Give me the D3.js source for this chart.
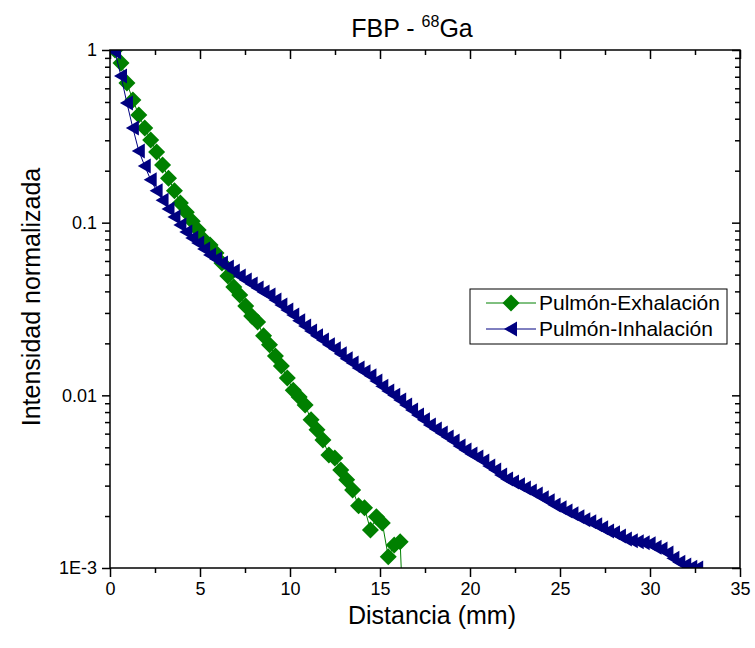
<!DOCTYPE html>
<meta charset="utf-8">

<!-- Load d3.js -->
<script src="https://d3js.org/d3.v7.min.js"></script>

<style>
  body { margin: 0; background: #fff; }
  text { font-family: Arial, "Liberation Sans", sans-serif; fill: #000; }
</style>

<!-- Create a div where the graph will take place -->
<div id="my_dataviz"></div>

<script>

// distance samples (mm)
var distancia = [0.28, 0.61, 0.94, 1.27, 1.60, 1.93, 2.26, 2.59, 2.92, 3.25,
  3.58, 3.91, 4.24, 4.57, 4.90, 5.23, 5.56, 5.89, 6.22, 6.55,
  6.88, 7.21, 7.54, 7.87, 8.20, 8.53, 8.86, 9.19, 9.52, 9.85,
  10.18, 10.51, 10.84, 11.17, 11.50, 11.83, 12.16, 12.49, 12.82, 13.15,
  13.48, 13.81, 14.14, 14.47, 14.80, 15.13, 15.46, 15.79, 16.12, 16.45,
  16.78, 17.11, 17.44, 17.77, 18.10, 18.43, 18.76, 19.09, 19.42, 19.75,
  20.08, 20.41, 20.74, 21.07, 21.40, 21.73, 22.06, 22.39, 22.72, 23.05,
  23.38, 23.71, 24.04, 24.37, 24.70, 25.03, 25.36, 25.69, 26.02, 26.35,
  26.68, 27.01, 27.34, 27.67, 28.00, 28.33, 28.66, 28.99, 29.32, 29.65,
  29.98, 30.31, 30.64, 30.97, 31.30, 31.63, 31.96, 32.29, 32.62];

// Pulmón-Exhalación (last value falls below the axis)
var exhalacion = [1.000, 0.841, 0.644, 0.514, 0.420, 0.353, 0.301, 0.257, 0.216, 0.181,
  0.153, 0.130, 0.115, 0.102, 0.0907, 0.0794, 0.0743, 0.0668, 0.0584, 0.0491,
  0.0424, 0.0381, 0.0329, 0.0288, 0.0266, 0.0221, 0.0196, 0.0169, 0.0148, 0.0126,
  0.0107, 0.00979, 0.00880, 0.00721, 0.00631, 0.00552, 0.00452, 0.00434, 0.00370, 0.00324,
  0.00283, 0.00229, 0.00223, 0.00166, 0.00198, 0.00182, 0.00116, 0.00136, 0.00142, 0.0002];

// Pulmón-Inhalación
var inhalacion = [0.974, 0.707, 0.493, 0.353, 0.260, 0.213, 0.177, 0.153, 0.135, 0.120,
  0.108, 0.0970, 0.0883, 0.0815, 0.0762, 0.0704, 0.0650, 0.0616, 0.0584, 0.0554,
  0.0525, 0.0491, 0.0466, 0.0442, 0.0419, 0.0397, 0.0381, 0.0357, 0.0334, 0.0312,
  0.0292, 0.0270, 0.0252, 0.0236, 0.0221, 0.0209, 0.0196, 0.0186, 0.0174, 0.0163,
  0.0154, 0.0144, 0.0137, 0.0130, 0.0121, 0.0113, 0.0106, 0.0100, 0.00940, 0.00880,
  0.00823, 0.00770, 0.00721, 0.00674, 0.00639, 0.00606, 0.00574, 0.00544, 0.00509, 0.00483,
  0.00458, 0.00440, 0.00417, 0.00390, 0.00370, 0.00346, 0.00328, 0.00315, 0.00303, 0.00291,
  0.00279, 0.00268, 0.00255, 0.00245, 0.00232, 0.00223, 0.00214, 0.00206, 0.00198, 0.00190,
  0.00185, 0.00178, 0.00171, 0.00164, 0.00160, 0.00153, 0.00147, 0.00144, 0.00142, 0.00140,
  0.00138, 0.00132, 0.00129, 0.00122, 0.00114, 0.00108, 0.00104, 0.00101, 0.00100];

var xTicks = [0, 5, 10, 15, 20, 25, 30, 35];
var xMinorTicks = [2.5, 7.5, 12.5, 17.5, 22.5, 27.5, 32.5];
var yTicks = [1, 0.1, 0.01, 0.001];
var yTickLabels = ["1", "0.1", "0.01", "1E-3"];
var seriesNames = ["Pulmón-Exhalación", "Pulmón-Inhalación"];

// set the dimensions and margins of the graph
var margin = {top: 50, right: 15, bottom: 80, left: 110},
    width = 755 - margin.left - margin.right,
    height = 648 - margin.top - margin.bottom;

var svg = d3.select("#my_dataviz")
  .append("svg")
    .attr("width", 755)
    .attr("height", 648)
  .append("g")
    .attr("transform", "translate(" + margin.left + "," + margin.top + ")");

var x = d3.scaleLinear().domain([0, 35]).range([0, width]);
var y = d3.scaleLog().domain([0.001, 1]).range([height, 0]);

// minor ticks for the log axis: 2..9 in every decade
var yMinorTicks = [];
[0.001, 0.01, 0.1].forEach(function(d) {
  for (var k = 2; k <= 9; k++) yMinorTicks.push(d * k);
});

function styleAxis(g) {
  g.select(".domain").remove();
  g.selectAll("line").attr("stroke", "#000").attr("stroke-width", 1.5);
  g.selectAll("text").style("font-size", "18px").attr("fill", "#000");
}

// bottom axis (ticks out)
svg.append("g")
  .attr("transform", "translate(0," + height + ")")
  .call(d3.axisBottom(x).tickValues(xTicks).tickSize(9).tickPadding(5).tickFormat(d3.format("d")))
  .call(styleAxis);
svg.append("g")
  .attr("transform", "translate(0," + height + ")")
  .call(d3.axisBottom(x).tickValues(xMinorTicks).tickSize(5).tickFormat(""))
  .call(styleAxis);

// top axis (ticks in)
svg.append("g")
  .call(d3.axisTop(x).tickValues(xTicks).tickSize(-9).tickFormat(""))
  .call(styleAxis);
svg.append("g")
  .call(d3.axisTop(x).tickValues(xMinorTicks).tickSize(-5).tickFormat(""))
  .call(styleAxis);

// left axis (ticks out)
svg.append("g")
  .call(d3.axisLeft(y).tickValues(yTicks).tickSize(8).tickPadding(5)
    .tickFormat(function(d, i) { return yTickLabels[i]; }))
  .call(styleAxis);
svg.append("g")
  .call(d3.axisLeft(y).tickValues(yMinorTicks).tickSize(5).tickFormat(""))
  .call(styleAxis);

// right axis (ticks in)
svg.append("g")
  .attr("transform", "translate(" + width + ",0)")
  .call(d3.axisRight(y).tickValues(yTicks).tickSize(-8).tickFormat(""))
  .call(styleAxis);
svg.append("g")
  .attr("transform", "translate(" + width + ",0)")
  .call(d3.axisRight(y).tickValues(yMinorTicks).tickSize(-5).tickFormat(""))
  .call(styleAxis);

// clip for the data
svg.append("clipPath").attr("id", "clip")
  .append("rect").attr("width", width).attr("height", height);

var diamond = "M0,-8.5L8.5,0L0,8.5L-8.5,0Z";
var triangle = "M-7,0L6,-7.5L6,7.5Z";

var series = [
  {name: seriesNames[0], values: exhalacion, color: "#008000", marker: diamond},
  {name: seriesNames[1], values: inhalacion, color: "#000080", marker: triangle}
];

var plot = svg.append("g").attr("clip-path", "url(#clip)");

series.forEach(function(s) {
  var pts = s.values.map(function(v, i) { return [distancia[i], v]; });

  plot.append("path")
    .datum(pts)
    .attr("fill", "none")
    .attr("stroke", s.color)
    .attr("stroke-width", 1)
    .attr("d", d3.line()
      .x(function(d) { return x(d[0]); })
      .y(function(d) { return y(d[1]); }));

  plot.append("g")
    .selectAll("path")
    .data(pts.filter(function(d) { return d[1] >= 0.001; }))
    .enter()
    .append("path")
      .attr("d", s.marker)
      .attr("transform", function(d) { return "translate(" + x(d[0]) + "," + y(d[1]) + ")"; })
      .attr("fill", s.color);
});

// frame
svg.append("rect")
  .attr("width", width)
  .attr("height", height)
  .attr("fill", "none")
  .attr("stroke", "#000")
  .attr("stroke-width", 1.5);

// legend
var legend = svg.append("g").attr("transform", "translate(360,239)");
legend.append("rect")
  .attr("width", 257)
  .attr("height", 55)
  .attr("fill", "#fff")
  .attr("stroke", "#000")
  .attr("stroke-width", 1);

series.forEach(function(s, i) {
  var ly = 14 + i * 26;
  legend.append("line")
    .attr("x1", 16).attr("x2", 66)
    .attr("y1", ly).attr("y2", ly)
    .attr("stroke", s.color).attr("stroke-width", 1);
  legend.append("path")
    .attr("d", s.marker)
    .attr("transform", "translate(41," + ly + ")")
    .attr("fill", s.color);
  legend.append("text")
    .attr("x", 69)
    .attr("y", ly + 7)
    .style("font-size", "21px")
    .text(s.name);
});

// title
var title = svg.append("text")
  .attr("x", width / 2 - 13)
  .attr("y", -13)
  .style("text-anchor", "middle")
  .style("font-size", "25px");
title.append("tspan").text("FBP - ");
title.append("tspan").attr("dy", -10).style("font-size", "16px").text("68");
title.append("tspan").attr("dy", 10).text("Ga");

// text label for the x axis
svg.append("text")
  .attr("x", width / 2 + 7)
  .attr("y", height + 56)
  .style("text-anchor", "middle")
  .style("font-size", "25px")
  .text("Distancia (mm)");

// text label for the y axis
svg.append("text")
  .attr("transform", "rotate(-90)")
  .attr("x", -(height / 2) + 12)
  .attr("y", -70)
  .style("text-anchor", "middle")
  .style("font-size", "25px")
  .text("Intensidad normalizada");

</script>
